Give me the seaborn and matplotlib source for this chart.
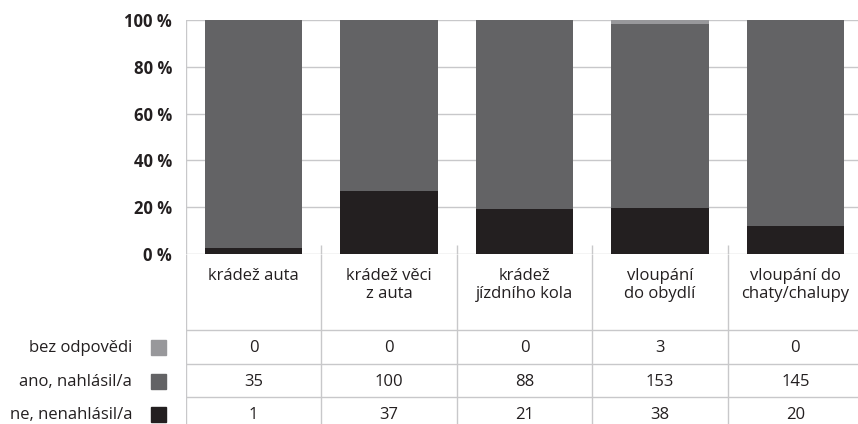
import numpy as np
import pandas as pd
import matplotlib
matplotlib.use("Agg")
import matplotlib.pyplot as plt
import seaborn as sns

categories = [
    "krádež auta",
    "krádež věci\nz auta",
    "krádež\njízdního kola",
    "vloupání\ndo obydlí",
    "vloupání do\nchaty/chalupy",
]
series_names = ["bez odpovědi", "ano, nahlásil/a", "ne, nenahlásil/a"]
bez_odpovedi = [0, 0, 0, 3, 0]
ano_nahlasil = [35, 100, 88, 153, 145]
ne_nenahlasil = [1, 37, 21, 38, 20]
colors = ["#98989b", "#636365", "#231f20"]
y_ticks = [0, 20, 40, 60, 80, 100]

sns.set_theme(style="white")
plt.rcParams["font.family"] = ["Open Sans", "DejaVu Sans"]

counts = pd.DataFrame(
    {
        "kategorie": categories,
        "bez": bez_odpovedi,
        "ano": ano_nahlasil,
        "ne": ne_nenahlasil,
    }
)
total = counts[["bez", "ano", "ne"]].sum(axis=1)
counts["top_bez"] = 100.0
counts["top_ano"] = (counts["ano"] + counts["ne"]) / total * 100
counts["top_ne"] = counts["ne"] / total * 100

W, H = 858, 424
fig = plt.figure(figsize=(W / 100, H / 100), dpi=100)
grid_col = "#c8c8ca"
txt_col = "#231f20"
fs = 12

ax_left = 186 / W
ax_width = 677 / W
bar_bottom = 1 - 254 / H
bar_top = 1 - 20 / H
ax = fig.add_axes([ax_left, bar_bottom, ax_width, bar_top - bar_bottom])

for col, c in zip(["top_bez", "top_ano", "top_ne"], colors):
    sns.barplot(data=counts, x="kategorie", y=col, color=c, width=0.72,
                saturation=1, linewidth=0, edgecolor="none", ax=ax, zorder=3)

ax.set_xlim(-0.5, 4.5)
ax.set_ylim(0, 100)
ax.set_yticks(y_ticks)
ax.set_yticklabels([f"{t} %" for t in y_ticks], fontsize=fs, fontweight="bold",
                   color=txt_col)
ax.tick_params(axis="y", length=0, pad=10)
ax.set_xticks([])
ax.set_xlabel("")
ax.set_ylabel("")
for s in ax.spines.values():
    s.set_visible(False)
for t in y_ticks:
    ax.axhline(t, color=grid_col, lw=1, zorder=1)
ax.axvline(-0.5, color=grid_col, lw=1, zorder=1)
boundaries = np.arange(0.5, 4.5, 1)
ax.vlines(boundaries, 0, 3.8, color=grid_col, lw=1, zorder=1)

# table below
tab = fig.add_axes([ax_left, 0, ax_width, bar_bottom])
tab.set_xlim(-0.5, 4.5)
tab.set_ylim(170, 0)
tab.axis("off")
tab.vlines(np.arange(-0.5, 4.5, 1), 0, 170, color=grid_col, lw=1)
tab.hlines([76, 110, 143], -0.5, 4.6, color=grid_col, lw=1)

for i, name in enumerate(categories):
    tab.text(i, 14, name, ha="center", va="top", fontsize=fs,
             color=txt_col, linespacing=1.15)

rows = [bez_odpovedi, ano_nahlasil, ne_nenahlasil]
row_y = [94, 128, 161]
for name, vals, y, c in zip(series_names, rows, row_y, colors):
    for i, v in enumerate(vals):
        tab.text(i, y, str(v), ha="center", va="center", fontsize=fs,
                 color=txt_col)
    fig.text(132 / W, 1 - (254 + y) / H, name, ha="right", va="center",
             fontsize=fs, color=txt_col)
    fig.patches.append(plt.Rectangle((151 / W, 1 - (254 + y + 7) / H), 15 / W, 15 / H,
                                     transform=fig.transFigure, color=c))

fig.savefig("out.png", dpi=100)
